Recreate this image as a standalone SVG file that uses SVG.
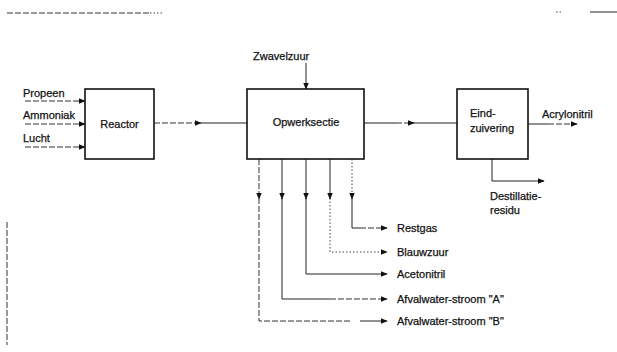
<svg xmlns="http://www.w3.org/2000/svg" width="617" height="352" viewBox="0 0 617 352">
<style>
text{font-family:"Liberation Sans",Arial,sans-serif;font-size:11px;fill:#111;stroke:#111;stroke-width:0.25;}
.box{fill:#fff;stroke:#111;stroke-width:1.6;}
.ln{fill:none;stroke:#222;stroke-width:1;}
.dl{fill:none;stroke:#333;stroke-width:1;stroke-dasharray:6 2;}
.dt{fill:none;stroke:#444;stroke-width:1;stroke-dasharray:1.5 2;}
</style>
<defs>
<marker id="ah" viewBox="0 0 10 10" refX="9" refY="5" markerWidth="7" markerHeight="7" markerUnits="userSpaceOnUse" orient="auto">
<path d="M0,1 L10,5 L0,9 z" fill="#111"/>
</marker>
</defs>
<rect width="617" height="352" fill="#fff"/>
<g id="artifacts">
<path class="dl" d="M7,13 H150" stroke="#555"/>
<path class="dt" d="M150,13 H163"/>
<path class="dt" d="M556,12 H561"/>
<path class="ln" d="M590,12 H617" stroke="#555"/>
<path class="dl" d="M7,222 V345"/>
</g>
<g id="connectors">
<path class="dl" d="M25,101 H85" marker-end="url(#ah)"/>
<path class="dl" d="M25,124 H85" marker-end="url(#ah)"/>
<path class="dl" d="M25,147 H85" marker-end="url(#ah)"/>
<path class="dl" d="M154,123 H201" marker-end="url(#ah)"/>
<path class="ln" d="M200,123 H247"/>
<path class="ln" d="M306,63 V89" marker-end="url(#ah)"/>
<path class="ln" d="M364,123 H396"/>
<path class="dl" d="M396,123 H414" marker-end="url(#ah)"/>
<path class="ln" d="M413,123 H457"/>
<path class="ln" d="M528,124 H548"/>
<path class="dl" d="M548,124 H577" marker-end="url(#ah)"/>
<path class="ln" d="M492,159 V181 H544" marker-end="url(#ah)"/>
<path class="dl" d="M259,159 V199" marker-end="url(#ah)"/>
<path class="ln" d="M282,159 V199" marker-end="url(#ah)"/>
<path class="ln" d="M306,159 V199" marker-end="url(#ah)"/>
<path class="ln" d="M330,159 V199" marker-end="url(#ah)"/>
<path class="dt" d="M352,159 V199" marker-end="url(#ah)"/>
<path class="ln" d="M352,198 V228 H360"/>
<path class="dl" d="M360,228 H387" marker-end="url(#ah)"/>
<path class="dt" d="M330,198 V252 H387" marker-end="url(#ah)"/>
<path class="ln" d="M306,198 V274 H387" marker-end="url(#ah)"/>
<path class="ln" d="M282,198 V299 H330"/>
<path class="dl" d="M330,299 H387" marker-end="url(#ah)"/>
<path class="dl" d="M259,198 V321 H350"/>
<path class="ln" d="M360,321 H387" marker-end="url(#ah)"/>
</g>
<g id="reactor">
<rect class="box" x="85" y="89" width="69" height="70"/>
<text x="119.5" y="128" text-anchor="middle">Reactor</text>
</g>
<g id="opwerksectie">
<rect class="box" x="247" y="89" width="117" height="70"/>
<text x="306" y="126" text-anchor="middle">Opwerksectie</text>
</g>
<g id="eindzuivering">
<rect class="box" x="457" y="89" width="71" height="70"/>
<text x="470" y="117">Eind-</text>
<text x="470" y="132">zuivering</text>
</g>
<g id="inputs">
<text x="23" y="97">Propeen</text>
<text x="23" y="119">Ammoniak</text>
<text x="23" y="142">Lucht</text>
<text x="253" y="60">Zwavelzuur</text>
</g>
<g id="outputs">
<text x="542" y="118">Acrylonitril</text>
<text x="490" y="200">Destillatie-</text>
<text x="490" y="214">residu</text>
<text x="397" y="232">Restgas</text>
<text x="397" y="256">Blauwzuur</text>
<text x="397" y="278">Acetonitril</text>
<text x="397" y="303">Afvalwater-stroom "A"</text>
<text x="397" y="325">Afvalwater-stroom "B"</text>
</g>
</svg>
